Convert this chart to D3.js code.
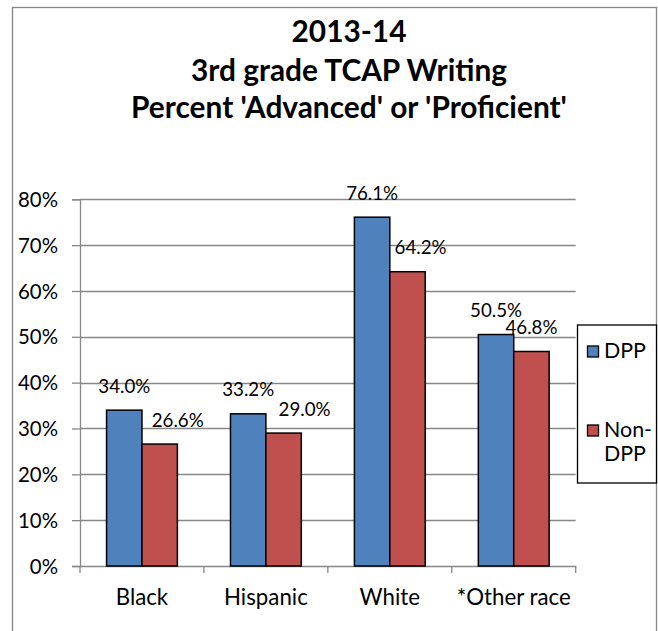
<!DOCTYPE html>
<html><head><meta charset="utf-8">
<script src="https://cdnjs.cloudflare.com/ajax/libs/d3/7.8.5/d3.min.js"></script>
<style>body{margin:0;background:#fff}svg{display:block}text{font-family:Lato,"Open Sans",sans-serif;fill:#000}</style>
</head><body><svg id="c" width="658" height="631"></svg>
<script>
const titleLines = ["2013-14", "3rd grade TCAP Writing", "Percent 'Advanced' or 'Proficient'"];
const categories = ["Black", "Hispanic", "White", "*Other race"];
const seriesNames = ["DPP", "Non-DPP"];
const dppValues = [0.340, 0.332, 0.761, 0.505];
const nonDppValues = [0.266, 0.290, 0.642, 0.468];
const yTicks = [0, 0.1, 0.2, 0.3, 0.4, 0.5, 0.6, 0.7, 0.8];
const colors = ["#4F81BD", "#C0504D"];
const nonDppLabelNudge = [18, 21, 13, 0];

const svg = d3.select("#c");
const plot = {left: 80, right: 575.7, top: 199.3, bottom: 566};

// fit a text selection's font size so a reference node reaches a target width
function fitSize(sel, node, base, target) {
  const s = base * target / node.getComputedTextLength();
  sel.attr("font-size", s);
}

// chart border
svg.append("rect").attr("x", 12.5).attr("y", 7.5).attr("width", 644).attr("height", 660)
  .attr("fill", "#fff").attr("stroke", "#878787").attr("stroke-width", 1.3);

// title
const title = svg.append("g");
const baselines = [41.7, 80.5, 118];
titleLines.forEach((t, i) => {
  title.append("text").attr("x", 349).attr("y", baselines[i]).attr("text-anchor", "middle")
    .attr("font-weight", "bold").attr("font-size", 26).text(t);
});
fitSize(title.selectAll("text"), title.selectAll("text").nodes()[2], 26, 436);

const y = d3.scaleLinear().domain([0, 0.8]).range([plot.bottom, plot.top]);
const x = d3.scaleBand().domain(categories).range([plot.left, plot.right]);
const bw = x.bandwidth();
const barW = bw / 3.5;
const xs = d3.scaleBand().domain(seriesNames).range([barW * 0.75, bw - barW * 0.75]);

// gridlines
svg.append("g").selectAll("line").data(yTicks.filter(d => d > 0)).join("line")
  .attr("x1", plot.left).attr("x2", plot.right)
  .attr("y1", d => Math.round(y(d)) + 0.5).attr("y2", d => Math.round(y(d)) + 0.5)
  .attr("stroke", "#878787").attr("stroke-width", 1.3);

// y axis
const yAxis = svg.append("g").attr("transform", `translate(${plot.left},0)`)
  .call(d3.axisLeft(y).tickValues(yTicks).tickFormat(d3.format(".0%")).tickSize(8).tickPadding(14));
yAxis.select(".domain").attr("stroke", "#878787").attr("stroke-width", 1.3);
yAxis.selectAll(".tick line").attr("stroke", "#878787").attr("stroke-width", 1.3);
const yText = yAxis.selectAll(".tick text").attr("font-size", 21).attr("font-family", "Lato").attr("fill", "#000").attr("dy", "0.35em");
fitSize(yText, yText.nodes()[8], 21, 40);

// x axis
const xAxis = svg.append("g").attr("transform", `translate(0,${plot.bottom})`)
  .call(d3.axisBottom(x).tickSize(0).tickPadding(23));
xAxis.select(".domain").attr("stroke", "#878787").attr("stroke-width", 1.3);
const xText = xAxis.selectAll(".tick text").attr("font-size", 21).attr("font-family", "Lato").attr("fill", "#000");
fitSize(xText, xText.nodes()[3], 21, 114);
const bounds = categories.map(c => x(c)).concat([plot.right]);
xAxis.append("g").selectAll("line").data(bounds).join("line")
  .attr("x1", d => d).attr("x2", d => d).attr("y1", 0).attr("y2", 7)
  .attr("stroke", "#878787").attr("stroke-width", 1.3);

// bars
const seriesData = [dppValues, nonDppValues];
const labelNodes = [];
seriesData.forEach((vals, s) => {
  const g = svg.append("g");
  g.selectAll("rect").data(vals).join("rect")
    .attr("x", (d, i) => x(categories[i]) + xs(seriesNames[s]))
    .attr("y", d => y(d))
    .attr("width", xs.bandwidth())
    .attr("height", d => y(0) - y(d))
    .attr("fill", colors[s]).attr("stroke", "#000").attr("stroke-width", 1.5);
  g.selectAll("text").data(vals).join("text")
    .attr("class", "dl")
    .attr("x", (d, i) => x(categories[i]) + xs(seriesNames[s]) + xs.bandwidth() / 2 + (s === 1 ? nonDppLabelNudge[i] : 0))
    .attr("y", d => y(d) - 17.5)
    .attr("text-anchor", "middle").attr("font-size", 19)
    .text(d => d3.format(".1%")(d));
});
const dl = svg.selectAll("text.dl");
fitSize(dl, dl.nodes()[0], 19, 52);

// legend
const lg = svg.append("g");
lg.append("rect").attr("x", 577.5).attr("y", 325).attr("width", 79).attr("height", 158)
  .attr("fill", "#fff").attr("stroke", "#000").attr("stroke-width", 1.3);
const legendRows = [{name: ["DPP"], sy: 346}, {name: ["Non-", "DPP"], sy: 425}];
legendRows.forEach((r, i) => {
  lg.append("rect").attr("x", 587.5).attr("y", r.sy).attr("width", 11).attr("height", 11)
    .attr("fill", colors[i]).attr("stroke", "#000").attr("stroke-width", 1.3);
  r.name.forEach((t, j) => {
    lg.append("text").attr("class", "lt").attr("x", 604).attr("y", r.sy + 12 + j * 24).attr("font-size", 20).text(t);
  });
});
const lt = lg.selectAll("text.lt");
fitSize(lt, lt.nodes()[0], 20, 42);
</script></body></html>
